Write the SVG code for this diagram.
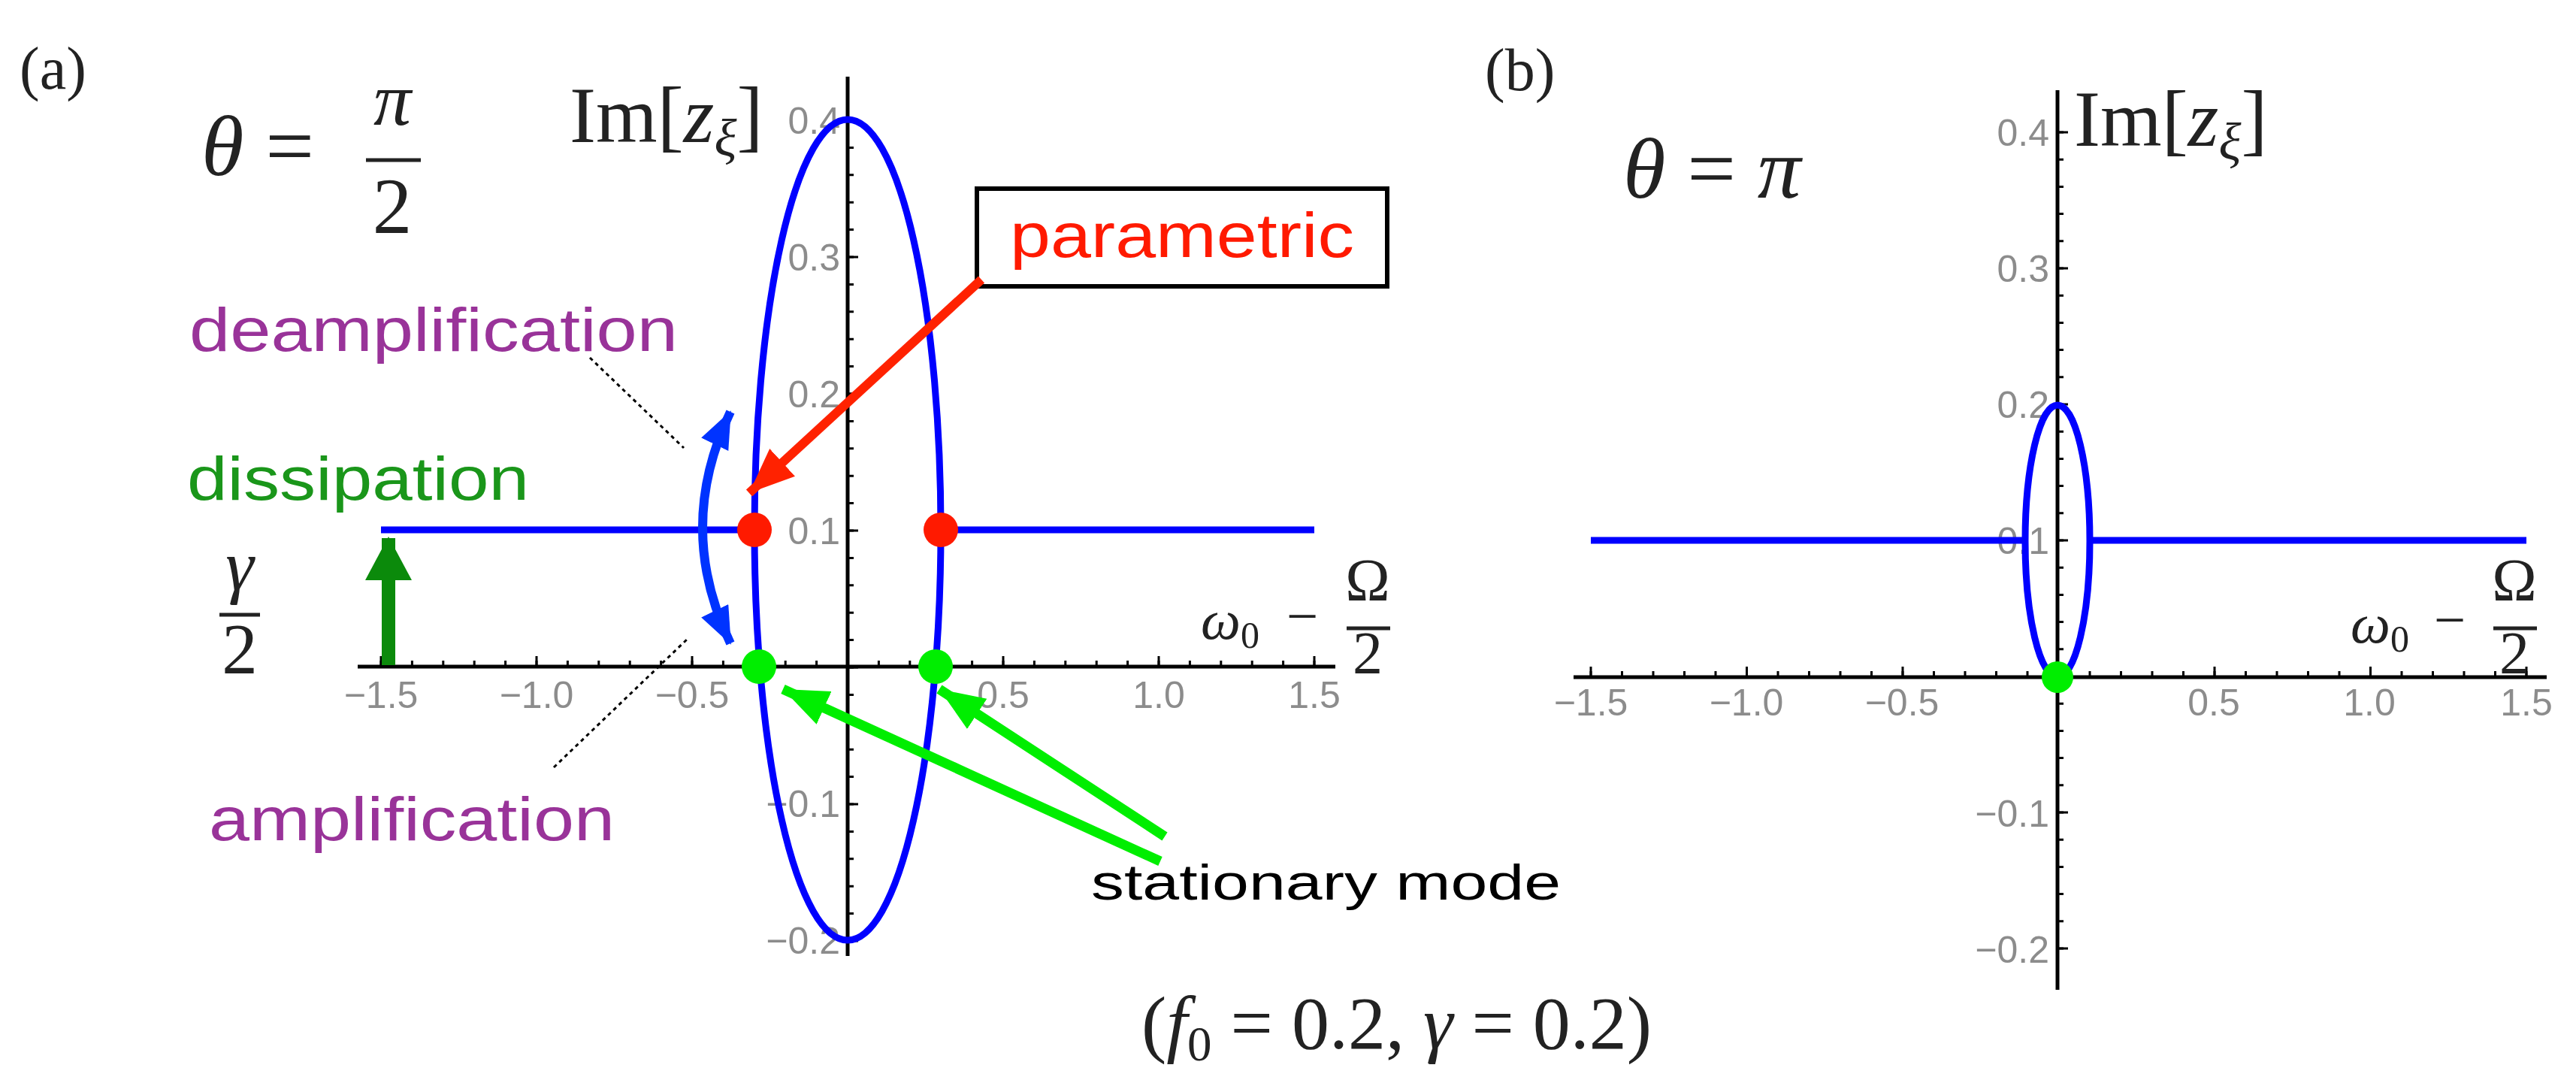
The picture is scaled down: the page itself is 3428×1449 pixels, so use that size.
<svg xmlns="http://www.w3.org/2000/svg" width="3428" height="1449" viewBox="0 0 3428 1449">
<style>
.ax{stroke:#000;stroke-width:5;fill:none}
.tk{stroke:#000;fill:none}
.tl{font-family:"Liberation Sans",Arial,sans-serif;font-size:50px;fill:#8c8c8c}
.m{font-family:"Liberation Serif","Times New Roman",serif;fill:#222}
.i{font-style:italic}
.cv{stroke:#0000ff;stroke-width:9;fill:none}
.lab{font-family:"Liberation Sans",Arial,sans-serif}
</style>
<defs>
<marker id="hr" markerUnits="userSpaceOnUse" markerWidth="70" markerHeight="60" refX="60" refY="25" orient="auto"><path d="M0,0 L60,25 L0,50 Z" fill="#ff2200"/></marker>
<marker id="hg" markerUnits="userSpaceOnUse" markerWidth="70" markerHeight="60" refX="60" refY="24" orient="auto"><path d="M0,0 L60,24 L0,48 Z" fill="#00ee00"/></marker>
<marker id="hb" markerUnits="userSpaceOnUse" markerWidth="60" markerHeight="50" refX="48" refY="20" orient="auto-start-reverse"><path d="M0,0 L50,20 L0,40 Z" fill="#0033ff"/></marker>
<marker id="hd" markerUnits="userSpaceOnUse" markerWidth="70" markerHeight="70" refX="56" refY="31" orient="auto"><path d="M0,0 L58,31 L0,62 Z" fill="#0b8a0b"/></marker>
</defs>

<g id="panel-a">
<text x="26" y="118" class="m" font-size="80">(a)</text>
<!-- axes -->
<line class="ax" x1="476" y1="887" x2="1777" y2="887"/>
<line class="ax" x1="1128" y1="102" x2="1128" y2="1272"/>
<line class="tk" x1="505.5" y1="883" x2="1752" y2="883" stroke-width="8" stroke-dasharray="3 38.4"/>
<line class="tk" x1="505.5" y1="880" x2="1752" y2="880" stroke-width="14" stroke-dasharray="3 204"/>
<line class="tk" x1="1132" y1="158.5" x2="1132" y2="1254" stroke-width="8" stroke-dasharray="3 33.4"/>
<line class="tk" x1="1135" y1="158.5" x2="1135" y2="1254" stroke-width="14" stroke-dasharray="3 179"/>
<g class="tl" text-anchor="middle">
<text x="507" y="942">−1.5</text><text x="714" y="942">−1.0</text><text x="921" y="942">−0.5</text>
<text x="1335" y="942">0.5</text><text x="1542" y="942">1.0</text><text x="1749" y="942">1.5</text>
</g>
<g class="tl" text-anchor="end">
<text x="1118" y="178">0.4</text><text x="1118" y="360">0.3</text><text x="1118" y="542">0.2</text>
<text x="1118" y="724">0.1</text><text x="1118" y="1087">−0.1</text><text x="1118" y="1269">−0.2</text>
</g>
<!-- curves -->
<ellipse class="cv" cx="1128" cy="705" rx="124" ry="546"/>
<line class="cv" x1="507" y1="705" x2="1004" y2="705"/>
<line class="cv" x1="1252" y1="705" x2="1749" y2="705"/>
<circle cx="1004" cy="705" r="23" fill="#ff1a00"/>
<circle cx="1252" cy="705" r="23" fill="#ff1a00"/>
<circle cx="1010" cy="887" r="23" fill="#00ee00"/>
<circle cx="1245" cy="887" r="23" fill="#00ee00"/>
<!-- labels -->
<text x="758" y="189" class="m" font-size="105">Im<tspan>[</tspan><tspan class="i">z</tspan><tspan class="i" font-size="70" dy="18">ξ</tspan><tspan dy="-18">]</tspan></text>
<text x="268" y="233" class="m" font-size="115"><tspan class="i">θ</tspan> =</text>
<text x="522" y="166" class="m i" font-size="100" text-anchor="middle">π</text>
<line x1="487" y1="213" x2="560" y2="213" stroke="#222" stroke-width="5"/>
<text x="522" y="310" class="m" font-size="105" text-anchor="middle">2</text>
<text x="319" y="785" class="m i" font-size="95" text-anchor="middle">γ</text>
<line x1="292" y1="818" x2="346" y2="818" stroke="#222" stroke-width="5"/>
<text x="319" y="896" class="m" font-size="95" text-anchor="middle">2</text>
<text x="1598" y="850" class="m i" font-size="75">ω<tspan font-size="50" dy="12" font-style="normal">0</tspan></text>
<text x="1733" y="845" class="m" font-size="75" text-anchor="middle">−</text>
<text x="1820" y="799" class="m" font-size="80" text-anchor="middle">Ω</text>
<line x1="1792" y1="836" x2="1850" y2="836" stroke="#222" stroke-width="5"/>
<text x="1820" y="896" class="m" font-size="80" text-anchor="middle">2</text>
<text x="252" y="467" class="lab" font-size="82" fill="#993399" textLength="650" lengthAdjust="spacingAndGlyphs">deamplification</text>
<text x="249" y="665" class="lab" font-size="82" fill="#1a961a" textLength="455" lengthAdjust="spacingAndGlyphs">dissipation</text>
<text x="278" y="1118" class="lab" font-size="82" fill="#993399" textLength="540" lengthAdjust="spacingAndGlyphs">amplification</text>
<text x="1452" y="1197" class="lab" font-size="66" fill="#000" textLength="625" lengthAdjust="spacingAndGlyphs">stationary mode</text>
</g>

<g id="parametric-box">
<rect x="1300" y="251" width="546" height="130" fill="#fff" stroke="#000" stroke-width="6"/>
<text x="1344" y="342" class="lab" font-size="84" fill="#ff1a00" textLength="458" lengthAdjust="spacingAndGlyphs">parametric</text>
</g>

<g id="connectors">
<line x1="1306" y1="372" x2="997" y2="656" stroke="#ff2200" stroke-width="12" marker-end="url(#hr)"/>
<line x1="1544" y1="1146" x2="1042" y2="917" stroke="#00ee00" stroke-width="13" marker-end="url(#hg)"/>
<line x1="1550" y1="1113" x2="1250" y2="917" stroke="#00ee00" stroke-width="13" marker-end="url(#hg)"/>
<path d="M972,548 Q898,702 972,856" fill="none" stroke="#0033ff" stroke-width="12" marker-start="url(#hb)" marker-end="url(#hb)"/>
<line x1="517" y1="885" x2="517" y2="716" stroke="#0b8a0b" stroke-width="18" marker-end="url(#hd)"/>
<line x1="785" y1="476" x2="910" y2="596" stroke="#000" stroke-width="3" stroke-dasharray="5 5"/>
<line x1="737" y1="1021" x2="915" y2="850" stroke="#000" stroke-width="3" stroke-dasharray="5 5"/>
</g>

<g id="panel-b">
<text x="1976" y="120" class="m" font-size="80">(b)</text>
<line class="ax" x1="2094" y1="901" x2="3389" y2="901"/>
<line class="ax" x1="2738" y1="120" x2="2738" y2="1317"/>
<line class="tk" x1="2115.5" y1="897" x2="3364" y2="897" stroke-width="8" stroke-dasharray="3 38.5"/>
<line class="tk" x1="2115.5" y1="894" x2="3364" y2="894" stroke-width="14" stroke-dasharray="3 204.5"/>
<line class="tk" x1="2742" y1="174.5" x2="2742" y2="1266" stroke-width="8" stroke-dasharray="3 33.2"/>
<line class="tk" x1="2745" y1="174.5" x2="2745" y2="1266" stroke-width="14" stroke-dasharray="3 178"/>
<g class="tl" text-anchor="middle">
<text x="2117" y="952">−1.5</text><text x="2324" y="952">−1.0</text><text x="2531" y="952">−0.5</text>
<text x="2946" y="952">0.5</text><text x="3153" y="952">1.0</text><text x="3362" y="952">1.5</text>
</g>
<g class="tl" text-anchor="end">
<text x="2727" y="194">0.4</text><text x="2727" y="375">0.3</text><text x="2727" y="556">0.2</text>
<text x="2727" y="737">0.1</text><text x="2727" y="1100">−0.1</text><text x="2727" y="1281">−0.2</text>
</g>
<ellipse class="cv" cx="2738" cy="720" rx="43" ry="181" stroke-width="7"/>
<line class="cv" x1="2117" y1="719" x2="2695" y2="719"/>
<line class="cv" x1="2781" y1="719" x2="3362" y2="719"/>
<circle cx="2738" cy="901" r="21" fill="#00ee00"/>
<text x="2760" y="194" class="m" font-size="105">Im<tspan>[</tspan><tspan class="i">z</tspan><tspan class="i" font-size="70" dy="18">ξ</tspan><tspan dy="-18">]</tspan></text>
<text x="2160" y="263" class="m" font-size="115"><tspan class="i">θ</tspan> = <tspan class="i">π</tspan></text>
<text x="3128" y="855" class="m i" font-size="75">ω<tspan font-size="50" dy="12" font-style="normal">0</tspan></text>
<text x="3260" y="850" class="m" font-size="75" text-anchor="middle">−</text>
<text x="3346" y="799" class="m" font-size="80" text-anchor="middle">Ω</text>
<line x1="3318" y1="836" x2="3376" y2="836" stroke="#222" stroke-width="5"/>
<text x="3346" y="896" class="m" font-size="80" text-anchor="middle">2</text>
</g>

<g id="caption">
<text x="1519" y="1395" class="m" font-size="100">(<tspan class="i">f</tspan><tspan font-size="65" dy="16">0</tspan><tspan dy="-16"> = 0.2, </tspan><tspan class="i">γ</tspan> = 0.2)</text>
</g>
</svg>
